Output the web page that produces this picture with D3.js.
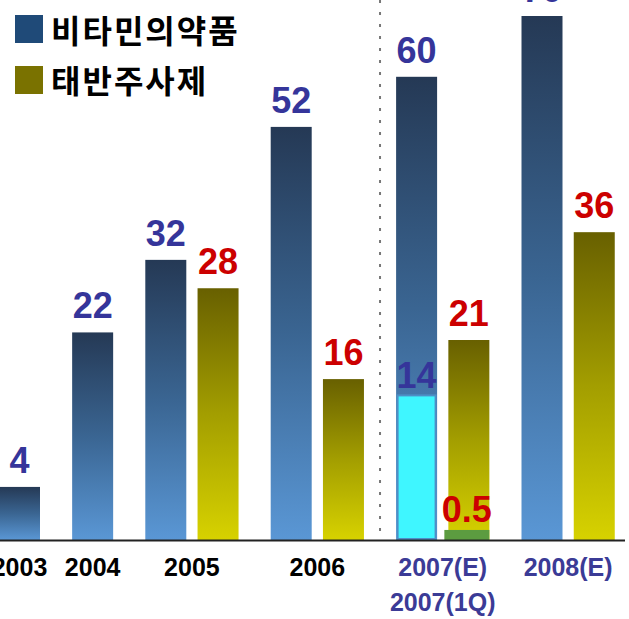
<!DOCTYPE html>
<html><head><meta charset="utf-8">
<script src="https://cdn.jsdelivr.net/npm/d3@7"></script>
<style>body{margin:0;background:#fff;overflow:hidden}</style></head><body>
<svg id="c" width="629" height="619"></svg>
<script>
// ---- data ----
const years = ["2003","2004","2005","2006","2007(E)","2008(E)"];
const vitamin = [4,22,32,52,60,70];
const placenta = [null,null,28,16,21,36];
const q1Label = "2007(1Q)";
const q1Year = "2007(E)";
const q1Vitamin = 14;
const q1Placenta = 0.5;
const seriesNames = ["비타민의약품","태반주사제"];

const svg = d3.select("#c");
const base = 540;

// slot layout: each bar takes one slot, groups separated by a gap
const gap = 0.4;
const slots = [];
let pos = 0;
years.forEach((y, i) => {
  if (i > 0) pos += gap;
  if (vitamin[i] != null) { slots.push({year:y, series:0, value:vitamin[i], pos:pos}); pos += 1; }
  if (placenta[i] != null) { slots.push({year:y, series:1, value:placenta[i], pos:pos}); pos += 1; }
});
const barW = 41;
const x = d3.scaleLinear().domain([0, 10]).range([-1, 521.5]);
const yS = d3.scalePow().exponent(0.8).domain([0, 70]).range([base, 16]);

// gradients
const defs = svg.append("defs");
const gb = defs.append("linearGradient").attr("id","gBlue").attr("x1",0).attr("y1",0).attr("x2",0).attr("y2",1);
gb.append("stop").attr("offset","0%").attr("stop-color","#253955");
gb.append("stop").attr("offset","50%").attr("stop-color","#3a6592");
gb.append("stop").attr("offset","100%").attr("stop-color","#5a97d5");
const gy = defs.append("linearGradient").attr("id","gYel").attr("x1",0).attr("y1",0).attr("x2",0).attr("y2",1);
gy.append("stop").attr("offset","0%").attr("stop-color","#686000");
gy.append("stop").attr("offset","50%").attr("stop-color","#a39e00");
gy.append("stop").attr("offset","100%").attr("stop-color","#d7d200");

// dotted separator between 2006 and 2007
const last2006 = slots.filter(d=>d.year==="2006").slice(-1)[0];
const first2007 = slots.find(d=>d.year===q1Year);
const sepX = ((x(last2006.pos)+barW) + x(first2007.pos))/2;
svg.append("line").attr("x1",sepX).attr("x2",sepX).attr("y1",0).attr("y2",base)
  .attr("stroke","#777").attr("stroke-width",2).attr("stroke-dasharray","3,9");

// bars
svg.selectAll("rect.bar").data(slots).enter().append("rect")
  .attr("class","bar")
  .attr("x", d=>x(d.pos)).attr("width", barW)
  .attr("y", d=>yS(d.value)).attr("height", d=>base - yS(d.value))
  .attr("fill", d=>d.series===0 ? "url(#gBlue)" : "url(#gYel)");

// 1Q overlay bars
const q1v = slots.find(d=>d.year===q1Year && d.series===0);
const q1p = slots.find(d=>d.year===q1Year && d.series===1);
svg.append("rect").attr("x", x(q1v.pos)+1.5).attr("width", barW-3)
  .attr("y", yS(q1Vitamin)).attr("height", base - yS(q1Vitamin)-1)
  .attr("fill","#3ff6ff").attr("stroke","#4e8fc6").attr("stroke-width",2);
svg.append("rect").attr("x", x(q1p.pos)-4).attr("width", barW+4)
  .attr("y", yS(q1Placenta)).attr("height", base - yS(q1Placenta))
  .attr("fill","#5c9c40");

// value labels
const font = "Liberation Sans, Arial, sans-serif";
const fmt = v => String(v);
svg.selectAll("text.val").data(slots).enter().append("text")
  .attr("x", d=>x(d.pos)+barW/2).attr("y", d=>yS(d.value)-14)
  .attr("text-anchor","middle")
  .attr("font-family",font).attr("font-weight","bold").attr("font-size",36)
  .attr("fill", d=>d.series===0 ? "#35359a" : "#cc0000")
  .text(d=>fmt(d.value));
svg.append("text").attr("x", x(q1v.pos)+barW/2).attr("y", yS(q1Vitamin)-7)
  .attr("text-anchor","middle")
  .attr("font-family",font).attr("font-weight","bold").attr("font-size",36)
  .attr("fill","#35359a").text(fmt(q1Vitamin));
svg.append("text").attr("x", x(q1p.pos)+barW/2-2).attr("y", yS(q1Placenta)-8)
  .attr("text-anchor","middle")
  .attr("font-family",font).attr("font-weight","bold").attr("font-size",36)
  .attr("fill","#cc0000").text(fmt(q1Placenta));

// baseline
svg.append("line").attr("x1",0).attr("x2",625).attr("y1",base+0.5).attr("y2",base+0.5)
  .attr("stroke","#222").attr("stroke-width",2);

// x labels
const groupCenter = y => {
  const s = slots.filter(d=>d.year===y);
  return (x(s[0].pos) + x(s[s.length-1].pos) + barW)/2;
};
svg.selectAll("text.xl").data(years).enter().append("text")
  .attr("x", d=>groupCenter(d)).attr("y", 576)
  .attr("text-anchor","middle")
  .attr("font-family",font).attr("font-weight","bold").attr("font-size",25)
  .attr("fill", d=>d.includes("(E)") ? "#3b3b96" : "#000")
  .text(d=>d);
svg.append("text").attr("x", groupCenter(q1Year)).attr("y", 611)
  .attr("text-anchor","middle")
  .attr("font-family",font).attr("font-weight","bold").attr("font-size",25)
  .attr("fill","#3b3b96").text(q1Label);

// legend
const legColors = ["#1f4a78","#7a7200"];
seriesNames.forEach((n,i)=>{
  svg.append("rect").attr("x",15).attr("y",15+i*51).attr("width",28).attr("height",28).attr("fill",legColors[i]);
  svg.append("text").attr("x",51).attr("y",43+i*50)
    .attr("font-family","Noto Sans CJK KR, sans-serif").attr("font-weight","bold").attr("font-size",32)
    .attr("letter-spacing",2)
    .attr("fill","#000").text(n);
});
</script>
</body></html>
